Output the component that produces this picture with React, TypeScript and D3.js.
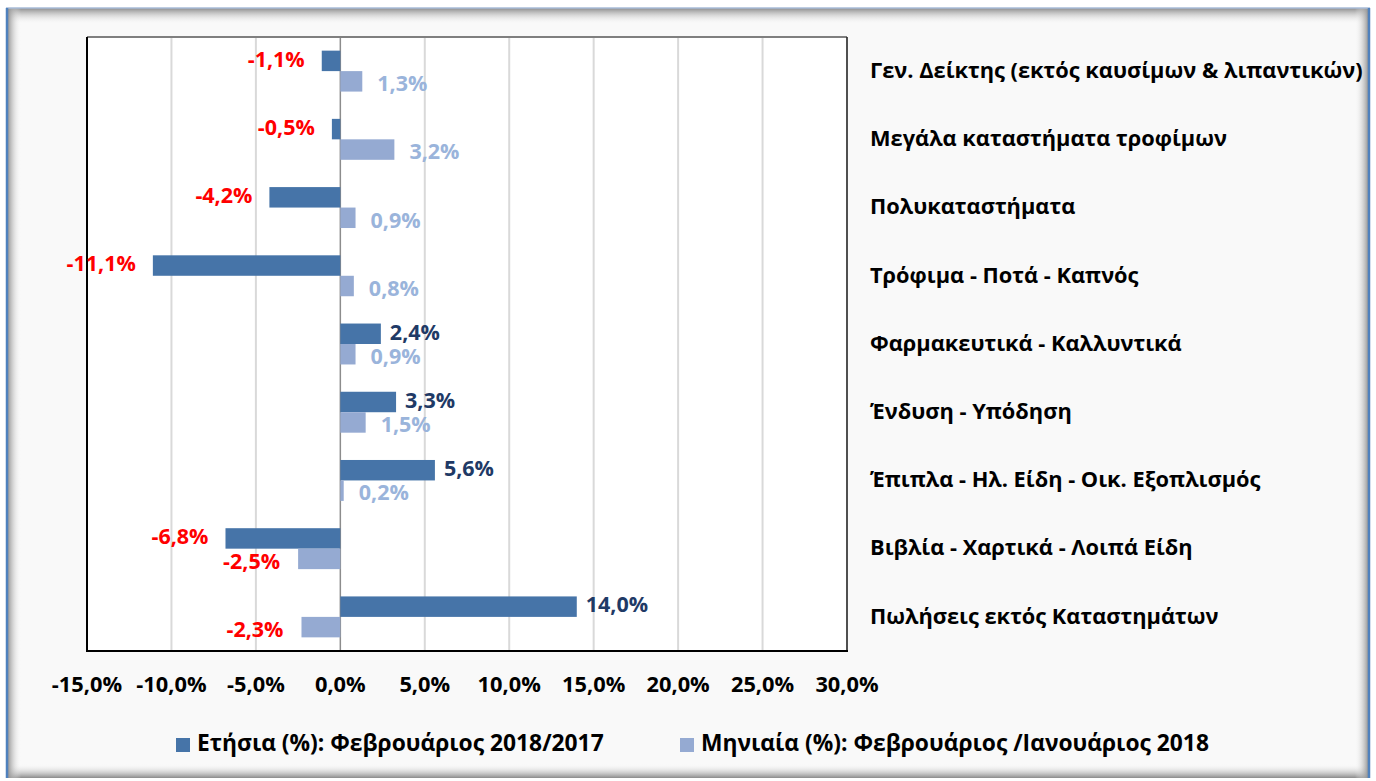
import React from "react";
import * as d3 from "d3";

const categories = [
  "Γεν. Δείκτης (εκτός καυσίμων & λιπαντικών)",
  "Μεγάλα καταστήματα τροφίμων",
  "Πολυκαταστήματα",
  "Τρόφιμα - Ποτά - Καπνός",
  "Φαρμακευτικά - Καλλυντικά",
  "Ένδυση - Υπόδηση",
  "Έπιπλα - Ηλ. Είδη - Οικ. Εξοπλισμός",
  "Βιβλία - Χαρτικά - Λοιπά Είδη",
  "Πωλήσεις εκτός Καταστημάτων",
];
const annualValues = [-1.1, -0.5, -4.2, -11.1, 2.4, 3.3, 5.6, -6.8, 14.0];
const monthlyValues = [1.3, 3.2, 0.9, 0.8, 0.9, 1.5, 0.2, -2.5, -2.3];
const xTicks = [-15, -10, -5, 0, 5, 10, 15, 20, 25, 30];
const seriesNames = [
  "Ετήσια (%): Φεβρουάριος 2018/2017",
  "Μηνιαία (%): Φεβρουάριος /Ιανουάριος 2018",
];

const W = 1376;
const H = 781;
const FONT = "'Open Sans', 'Noto Sans', sans-serif";
const DARK = "#4674A8";
const LIGHT = "#95AAD2";
const LIGHT_TEXT = "#9AB4DB";
const NAVY = "#1F3A66";
const RED = "#FF0000";

const fmt = (v: number) => v.toFixed(1).replace(".", ",") + "%";

export default function App() {
  const plot = { left: 87, right: 847, top: 37, bottom: 651 };
  const x = d3.scaleLinear().domain([-15, 30]).range([plot.left, plot.right]);
  const y = d3
    .scaleBand<string>()
    .domain(categories)
    .range([plot.top, plot.bottom])
    .padding(0);
  const step = y.step();
  const barH = step * 0.3;
  const fsLabel = 21.5;
  const fsCat = 21.8;
  const fsTick = 21.8;
  const fsLegend = 22.8;

  return (
    <svg
      width={W}
      height={H}
      style={{ position: "absolute", left: 0, top: 0 }}
      fontFamily={FONT}
    >
      <defs>
        <linearGradient id="shTop" x1="0" y1="0" x2="0" y2="1">
          <stop offset="0" stopColor="#8a8a8a" />
          <stop offset="1" stopColor="#f9f9f9" stopOpacity="0" />
        </linearGradient>
        <linearGradient id="shBottom" x1="0" y1="1" x2="0" y2="0">
          <stop offset="0" stopColor="#8a8a8a" />
          <stop offset="1" stopColor="#f9f9f9" stopOpacity="0" />
        </linearGradient>
        <linearGradient id="shLeft" x1="0" y1="0" x2="1" y2="0">
          <stop offset="0" stopColor="#8a8a8a" />
          <stop offset="1" stopColor="#f9f9f9" stopOpacity="0" />
        </linearGradient>
        <linearGradient id="shRight" x1="1" y1="0" x2="0" y2="0">
          <stop offset="0" stopColor="#8a8a8a" />
          <stop offset="1" stopColor="#f9f9f9" stopOpacity="0" />
        </linearGradient>
      </defs>
      <rect x={0} y={0} width={W} height={H} fill="#ffffff" />
      {/* frame */}
      <rect x={7} y={8} width={1362} height={770} fill="#f9f9f9" />
      <rect x={7} y={8} width={1362} height={16} fill="url(#shTop)" />
      <rect x={7} y={764} width={1362} height={14} fill="url(#shBottom)" />
      <rect x={7} y={8} width={14} height={770} fill="url(#shLeft)" />
      <rect x={1355} y={8} width={14} height={770} fill="url(#shRight)" />
      <line x1={6} x2={1370} y1={8} y2={8} stroke="#a9bdd8" strokeWidth={1.5} />
      <line x1={7} x2={7} y1={8} y2={778} stroke="#4F81BD" strokeWidth={2.5} />
      <line x1={1369} x2={1369} y1={8} y2={778} stroke="#4F81BD" strokeWidth={2.5} />

      {/* plot area */}
      <rect
        x={plot.left}
        y={plot.top}
        width={plot.right - plot.left}
        height={plot.bottom - plot.top}
        fill="#ffffff"
      />
      {xTicks.map((t) => (
        <line
          key={"g" + t}
          x1={x(t)}
          x2={x(t)}
          y1={plot.top}
          y2={plot.bottom}
          stroke={t === 0 ? "#8c8c8c" : "#d9d9d9"}
          strokeWidth={t === 0 ? 1.5 : 2}
        />
      ))}

      {/* bars */}
      {categories.map((c, i) => {
        const cy = (y(c) as number) + step / 2;
        const a = annualValues[i];
        const m = monthlyValues[i];
        return (
          <g key={c}>
            <rect
              x={Math.min(x(a), x(0))}
              y={cy - barH}
              width={Math.abs(x(a) - x(0))}
              height={barH}
              fill={DARK}
            />
            <rect
              x={Math.min(x(m), x(0))}
              y={cy}
              width={Math.abs(x(m) - x(0))}
              height={barH}
              fill={LIGHT}
            />
          </g>
        );
      })}

      {/* plot border */}
      <line x1={plot.left} x2={plot.right} y1={plot.top} y2={plot.top} stroke="#7f7f7f" strokeWidth={2} />
      <line x1={plot.left} x2={plot.left} y1={plot.top} y2={plot.bottom} stroke="#000" strokeWidth={2} />
      <line x1={plot.right} x2={plot.right} y1={plot.top} y2={plot.bottom} stroke="#222" strokeWidth={1.5} />
      <line x1={plot.left - 1} x2={plot.right + 1} y1={plot.bottom} y2={plot.bottom} stroke="#000" strokeWidth={2} />

      {/* data labels */}
      {categories.map((c, i) => {
        const cy = (y(c) as number) + step / 2;
        const a = annualValues[i];
        const m = monthlyValues[i];
        return (
          <g key={"l" + c} fontSize={fsLabel} fontWeight={700}>
            <text
              x={a < 0 ? x(a) - 17 : x(a) + 9}
              y={cy - barH / 2}
              dominantBaseline="middle"
              textAnchor={a < 0 ? "end" : "start"}
              fill={a < 0 ? RED : NAVY}
            >
              {fmt(a)}
            </text>
            <text
              x={m < 0 ? x(m) - 18 : x(m) + 15}
              y={cy + barH / 2 + 4}
              dominantBaseline="middle"
              textAnchor={m < 0 ? "end" : "start"}
              fill={m < 0 ? RED : LIGHT_TEXT}
            >
              {fmt(m)}
            </text>
          </g>
        );
      })}

      {/* category labels */}
      {categories.map((c) => (
        <text
          key={"c" + c}
          x={870}
          y={(y(c) as number) + step / 2 + 1}
          dominantBaseline="middle"
          fontSize={fsCat}
          fontWeight={700}
          fill="#000"
        >
          {c}
        </text>
      ))}

      {/* x tick labels */}
      {xTicks.map((t) => (
        <text
          key={"t" + t}
          x={x(t)}
          y={686}
          dominantBaseline="middle"
          textAnchor="middle"
          fontSize={fsTick}
          fontWeight={700}
          fill="#000"
        >
          {fmt(t)}
        </text>
      ))}

      {/* legend */}
      {seriesNames.map((s, i) => {
        const lx = i === 0 ? 176 : 680;
        return (
          <g key={s}>
            <rect x={lx} y={738} width={14} height={14} fill={i === 0 ? DARK : LIGHT} />
            <text
              x={lx + 21}
              y={745}
              dominantBaseline="middle"
              fontSize={fsLegend}
              fontWeight={700}
              fill="#000"
            >
              {s}
            </text>
          </g>
        );
      })}
    </svg>
  );
}
